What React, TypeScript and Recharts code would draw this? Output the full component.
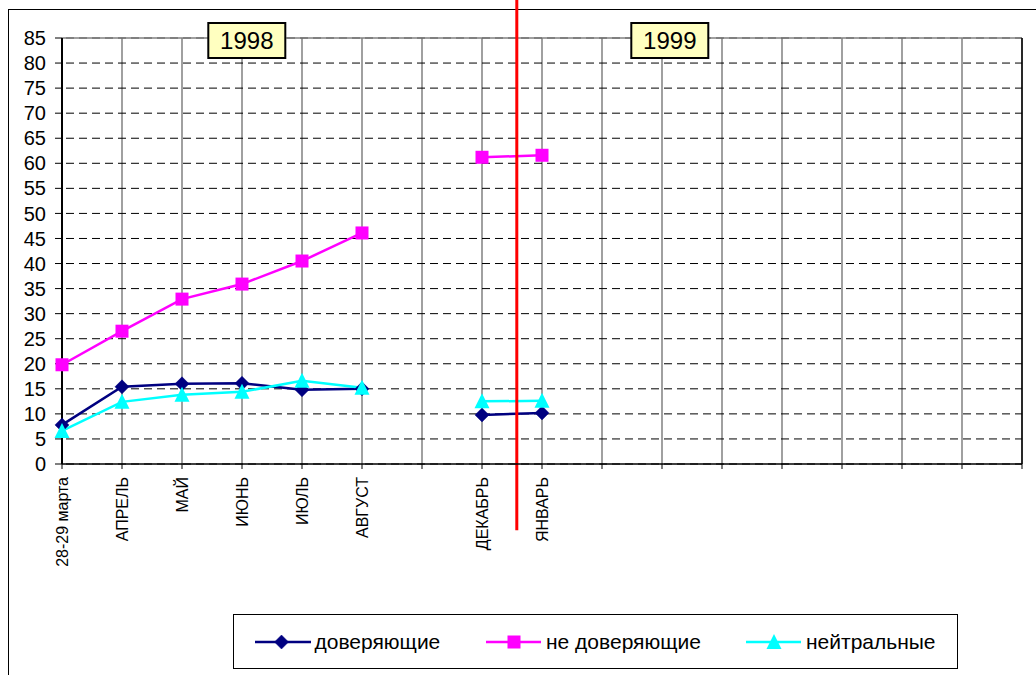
import React from 'react';
import { LineChart, Line, XAxis, YAxis, CartesianGrid, ReferenceLine, ReferenceDot, Legend } from 'recharts';

const categories = ['28-29 марта', 'АПРЕЛЬ', 'МАЙ', 'ИЮНЬ', 'ИЮЛЬ', 'АВГУСТ', '', 'ДЕКАБРЬ', 'ЯНВАРЬ', '', '', '', '', '', '', '', ''];
const trusting: (number | null)[] = [7.8, 15.4, 16.0, 16.1, 14.8, 15.0, null, 9.8, 10.2];
const distrusting: (number | null)[] = [19.8, 26.5, 32.9, 35.9, 40.5, 46.1, null, 61.2, 61.6];
const neutral: (number | null)[] = [6.6, 12.4, 13.8, 14.4, 16.6, 15.2, null, 12.5, 12.6];
const yTicks = [0, 5, 10, 15, 20, 25, 30, 35, 40, 45, 50, 55, 60, 65, 70, 75, 80, 85];
const seriesNames = ['доверяющие', 'не доверяющие', 'нейтральные'];
const seriesColors = ['#000080', '#FF00FF', '#00FFFF'];
const yearLabels = ['1998', '1999'];
const yearPositions = [3.08, 10.13];
const dividerPosition = 7.58;

const data = categories.map((c, i) => ({
  idx: i,
  label: c,
  trusting: trusting[i] ?? null,
  distrusting: distrusting[i] ?? null,
  neutral: neutral[i] ?? null,
}));

const FONT = '"Liberation Sans", Arial, sans-serif';

const Diamond = ({ cx, cy, color, s = 7 }: any) => (
  <polygon points={`${cx},${cy - s} ${cx + s},${cy} ${cx},${cy + s} ${cx - s},${cy}`} fill={color} stroke={color} strokeWidth={0.5} />
);
const Square = ({ cx, cy, color, s = 6.5 }: any) => (
  <rect x={cx - s} y={cy - s} width={2 * s} height={2 * s} fill={color} />
);
const Triangle = ({ cx, cy, color, s = 7.5 }: any) => (
  <polygon points={`${cx},${cy - s - 0.5} ${cx + s},${cy + s - 0.5} ${cx - s},${cy + s - 0.5}`} fill={color} />
);
const markers = [Diamond, Square, Triangle];

const makeDot = (k: number) => (p: any) => {
  const M = markers[k];
  if (p.cx == null || p.cy == null || p.value == null) return <g key={p.key ?? `e${k}-${p.index}`} />;
  return <M key={p.key ?? `d${k}-${p.index}`} cx={p.cx} cy={p.cy} color={seriesColors[k]} />;
};

const XTick = (props: any) => {
  const { x, y, payload } = props;
  const label = categories[payload.value];
  if (!label) return <g />;
  return (
    <text x={x} y={y} transform={`rotate(-90 ${x} ${y})`} textAnchor="end" dy="0.36em" fontSize={16} fontFamily={FONT} fill="#000">
      {label}
    </text>
  );
};

const YearBox = (text: string) => (p: any) => {
  const { cx, cy } = p;
  if (cx == null) return <g />;
  return (
    <g>
      <rect x={cx - 38.5} y={cy - 15} width={77} height={35} fill="#FFFFC0" stroke="#000" strokeWidth={2} />
      <text x={cx} y={cy + 11} textAnchor="middle" fontSize={24} fontFamily={FONT} fill="#000">{text}</text>
    </g>
  );
};

const legendLayout = [
  { lineX1: 22, lineX2: 78, mx: 48.5, tx: 81.5 },
  { lineX1: 253, lineX2: 308, mx: 281, tx: 313 },
  { lineX1: 513, lineX2: 568, mx: 541, tx: 573 },
];

const LegendBox = () => (
  <svg width={725} height={55} style={{ display: 'block' }}>
    <rect x={0.5} y={0.5} width={724} height={54} fill="#fff" stroke="#000" strokeWidth={1} />
    {seriesNames.map((name, k) => {
      const L = legendLayout[k];
      const M = markers[k];
      return (
        <g key={name}>
          <line x1={L.lineX1} x2={L.lineX2} y1={28} y2={28} stroke={seriesColors[k]} strokeWidth={2.5} />
          <M cx={L.mx} cy={28} color={seriesColors[k]} />
          <text x={L.tx} y={35} fontSize={21} fontFamily={FONT} fill="#000">{name}</text>
        </g>
      );
    })}
  </svg>
);

export default function App() {
  return (
    <div style={{ position: 'fixed', left: 0, top: 0, width: 1036, height: 675, overflow: 'hidden', background: '#fff' }}>
      <div style={{ position: 'absolute', left: 8, top: 9, width: 2000, height: 2000, borderLeft: '1px solid #000', borderTop: '1px solid #000' }} />
      <div style={{ position: 'absolute', left: 0, top: 0 }}>
        <LineChart width={1036} height={675} data={data} margin={{ top: 38, right: 14, left: 0, bottom: 111 }}>
          <CartesianGrid horizontal={false} vertical={true} stroke="#808080" strokeWidth={1.5} />
          <CartesianGrid horizontal={true} vertical={false} stroke="#000" strokeDasharray="8 5" strokeDashoffset={-4} strokeWidth={1} />
          <XAxis
            type="number"
            dataKey="idx"
            domain={[0, 16]}
            ticks={categories.map((_, i) => i)}
            interval={0}
            height={100}
            tickSize={5}
            tickMargin={8}
            axisLine={{ stroke: '#000', strokeWidth: 1.5 }}
            tickLine={{ stroke: '#000' }}
            tick={<XTick />}
          />
          <YAxis
            type="number"
            domain={[0, 85]}
            ticks={yTicks}
            interval={0}
            width={62}
            tickSize={7}
            tickMargin={9}
            axisLine={{ stroke: '#000', strokeWidth: 2 }}
            tickLine={{ stroke: '#000' }}
            tick={{ fontSize: 20, fill: '#000', fontFamily: FONT }}
          />
          <ReferenceLine y={85} stroke="#808080" strokeWidth={1.5} />
          <ReferenceLine x={16} stroke="#000" strokeWidth={1.5} />
          <Line dataKey="trusting" name={seriesNames[0]} stroke={seriesColors[0]} strokeWidth={2.5} dot={makeDot(0)} activeDot={false} isAnimationActive={false} />
          <Line dataKey="distrusting" name={seriesNames[1]} stroke={seriesColors[1]} strokeWidth={2.5} dot={makeDot(1)} activeDot={false} isAnimationActive={false} />
          <Line dataKey="neutral" name={seriesNames[2]} stroke={seriesColors[2]} strokeWidth={2.5} dot={makeDot(2)} activeDot={false} isAnimationActive={false} />
          <ReferenceLine
            segment={[{ x: dividerPosition, y: 92.6 }, { x: dividerPosition, y: -13.2 }]}
            stroke="#FF0000"
            strokeWidth={3}
            ifOverflow="visible"
          />
          {yearLabels.map((t, i) => (
            <ReferenceDot key={t} x={yearPositions[i]} y={85} ifOverflow="visible" shape={YearBox(t)} />
          ))}
          <Legend
            layout="vertical"
            align="center"
            verticalAlign="middle"
            wrapperStyle={{ position: 'absolute', left: 233, top: 614, width: 725, height: 55 }}
            content={() => <LegendBox />}
          />
        </LineChart>
      </div>
    </div>
  );
}
